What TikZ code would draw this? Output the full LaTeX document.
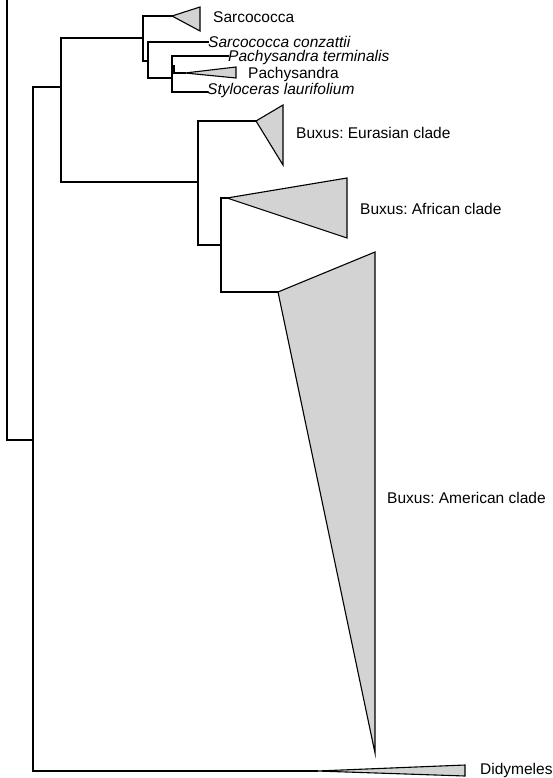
\documentclass[tikz,border=0pt]{standalone}
\usepackage{fontspec}
\setmainfont{Liberation Sans}
\usepackage{tikz}
\definecolor{cladegray}{RGB}{211,211,211}
\usetikzlibrary{calc}
\frenchspacing
\tikzset{%
  branch/.style={line width=1.3pt, line cap=rect},% tree branches
  clade/.style={draw, fill=cladegray, line width=1.1pt, line join=miter},% collapsed clades
  taxon/.style={anchor=base west, inner sep=0pt, font=\fontsize{15.5}{18}\selectfont},% tip labels
  species/.style={taxon, font=\fontsize{15.5}{18}\selectfont\itshape}% single species
}
% collapsed clade: apex, right edge x, top y, bottom y
\newcommand*{\cladetri}[4]{
  \draw[clade] (#1) -- (#2,#3) -- (#2,#4) -- cycle;}

\begin{document}
\begin{tikzpicture}[x=1pt, y=-1pt]
\useasboundingbox (0,0) rectangle (552,778);

% internal nodes
\coordinate (top) at (7,0);
\coordinate (a) at (33,440);
\coordinate (b) at (61,87);
\coordinate (c) at (143,38);
\coordinate (d) at (148,61);
\coordinate (f) at (172,78);
\coordinate (g) at (174,66);
\coordinate (e) at (198,182);
\coordinate (h) at (221,245);

% tips and clade apices
\coordinate (sarc) at (172,16);
\coordinate (conz) at (208,42);
\coordinate (term) at (228,56);
\coordinate (pach) at (185,73);
\coordinate (stylo) at (207,92);
\coordinate (eura) at (256,121);
\coordinate (afri) at (227,198);
\coordinate (amer) at (278,292);
\coordinate (didy) at (317,771);

% branches
\draw[branch] (top) |- (a);
\draw[branch] (a) |- (b);
\draw[branch] (a) |- (didy);
\draw[branch] (b) |- (c);
\draw[branch] (b) |- (e);
\draw[branch] (c) |- (sarc);
\draw[branch] (c) |- (d);
\draw[branch] (d) |- (conz);
\draw[branch] (d) |- (f);
\draw[branch] (f) |- (term);
\draw[branch] (f) |- (g);
\draw[branch] (g) |- (pach);
\draw[branch] (f) |- (stylo);
\draw[branch] (e) |- (eura);
\draw[branch] (e) |- (h);
\draw[branch] (h) |- (afri);
\draw[branch] (h) |- (amer);

% collapsed clades
\cladetri{sarc}{200}{7}{31}
\cladetri{pach}{236}{67}{78}
\cladetri{eura}{283}{105}{165}
\cladetri{afri}{347}{178}{238}
\cladetri{amer}{375}{252}{753}
\cladetri{didy}{465}{765}{776}

% labels
\node[taxon] (lsarc) at (213,23) {Sarcococca};
\node[species] (lconz) at (208,48) {Sarcococca conzattii};
\node[species] (lterm) at (228,62) {Pachysandra terminalis};
\node[taxon] (lpach) at (248,79) {Pachysandra};
\node[species] (lstylo) at (207,95) {Styloceras laurifolium};
\node[taxon] (leura) at (296,139) {Buxus: Eurasian clade};
\node[taxon] (lafri) at (360,214) {Buxus: African clade};
\node[taxon] (lamer) at (387,503) {Buxus: American clade};
\node[taxon] (ldidy) at (480,774) {Didymeles};

\end{tikzpicture}
\end{document}
